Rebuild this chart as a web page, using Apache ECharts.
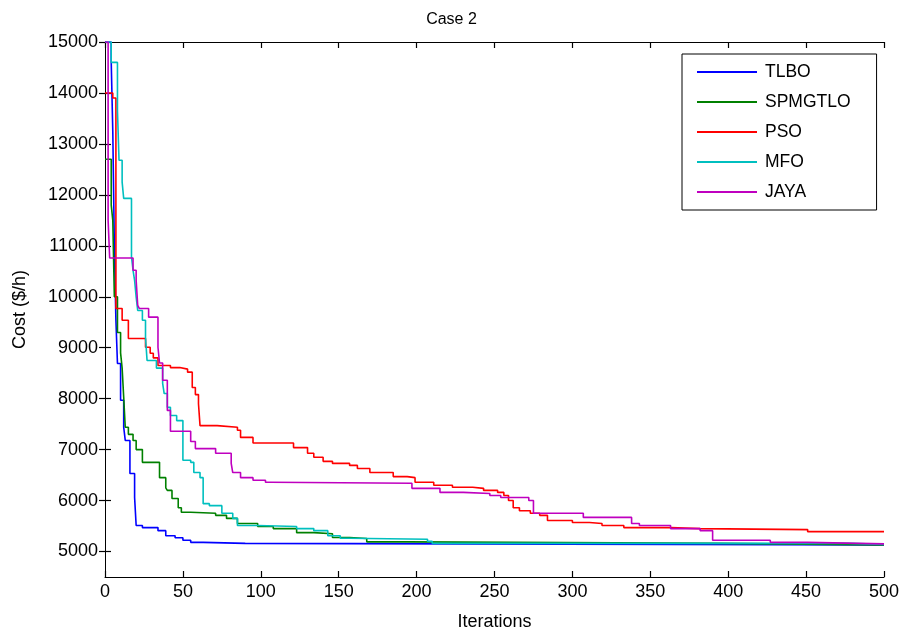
<!DOCTYPE html>
<html>
<head>
<meta charset="utf-8">
<script src="https://cdn.jsdelivr.net/npm/echarts@6/dist/echarts.min.js"></script>
<style>
  html, body { margin: 0; padding: 0; background: #fff; }
  #chart { width: 903px; height: 636px; }
</style>
</head>
<body>
<div id="chart"></div>
<script>
// Convergence of the best cost per iteration, [iteration, cost ($/h)]
const tlbo = [[0,15000],[4,14600],[5,13250],[6,11000],[7,9540],[8,8690],[10,7970],[12,7440],[13,7180],[16,6530],[19,6060],[20,5510],[24,5470],[34,5410],[39,5310],[45,5270],[50,5220],[55,5180],[63,5160],[90,5130],[500,5130]];
const spmgtlo = [[0,12700],[4,11800],[5,11500],[6,10000],[8,9300],[10,8900],[11,8600],[12,8030],[13,7440],[15,7300],[18,7180],[20,7000],[24,6750],[32,6750],[35,6450],[39,6250],[40,6200],[43,6040],[47,5860],[49,5770],[55,5750],[71,5710],[78,5650],[85,5550],[98,5490],[108,5450],[123,5370],[134,5350],[146,5275],[157,5255],[168,5190],[194,5160],[395,5130],[500,5130]];
const pso = [[0,14000],[5,13900],[7,9770],[11,9540],[15,9180],[26,9010],[29,8890],[31,8800],[34,8650],[42,8610],[48,8580],[53,8520],[56,8220],[58,8080],[60,7900],[61,7470],[72,7440],[85,7380],[87,7240],[95,7130],[121,7040],[130,6930],[134,6850],[140,6770],[146,6730],[157,6690],[162,6630],[170,6550],[185,6470],[194,6450],[199,6360],[211,6300],[223,6260],[236,6240],[243,6200],[252,6160],[256,6100],[259,6000],[262,5860],[266,5800],[273,5750],[279,5710],[284,5610],[300,5570],[311,5550],[319,5510],[333,5470],[363,5450],[382,5430],[451,5390],[500,5390]];
const mfo = [[0,15000],[4,14600],[8,13650],[9,12680],[11,12250],[12,11930],[17,10780],[18,10520],[19,10320],[20,9990],[21,9730],[24,9540],[26,9200],[27,8750],[33,8600],[37,8300],[38,8100],[40,7830],[42,7670],[46,7570],[50,6790],[55,6750],[57,6550],[61,6450],[63,5940],[67,5900],[75,5750],[82,5650],[85,5510],[98,5490],[123,5450],[134,5410],[143,5310],[151,5260],[157,5240],[207,5200],[210,5160],[477,5140],[500,5140]];
const jaya = [[0,15000],[2,11500],[3,10760],[18,10520],[20,10320],[21,9830],[22,9770],[28,9600],[34,9010],[35,8700],[37,8360],[40,7770],[42,7360],[55,7160],[58,7020],[71,6930],[81,6730],[82,6550],[87,6450],[95,6400],[103,6360],[106,6340],[197,6240],[215,6160],[230,6140],[247,6100],[254,6060],[272,6000],[275,5750],[307,5670],[338,5550],[343,5510],[363,5450],[382,5410],[390,5220],[427,5180],[451,5150],[500,5150]];

const seriesNames = ['TLBO', 'SPMGTLO', 'PSO', 'MFO', 'JAYA'];
const seriesColors = ['#0000ff', '#008000', '#ff0000', '#00bfbf', '#bf00bf'];
const seriesData = [tlbo, spmgtlo, pso, mfo, jaya];

const xTicks = [0, 50, 100, 150, 200, 250, 300, 350, 400, 450, 500];
const yTicks = [5000, 6000, 7000, 8000, 9000, 10000, 11000, 12000, 13000, 14000, 15000];

const font = 'Liberation Sans, Arial, sans-serif';
const chart = echarts.init(document.getElementById('chart'), null, { renderer: 'canvas' });

const axisLineStyle = { show: true, lineStyle: { color: '#000', width: 1 } };
const tickStyle = { show: true, inside: true, length: 6, lineStyle: { color: '#000', width: 1.2 } };
const plain = v => String(v);

chart.setOption({
  backgroundColor: '#fff',
  animation: false,
  title: {
    text: 'Case 2',
    left: 'center',
    top: 7,
    textStyle: { fontFamily: font, fontSize: 16, fontWeight: 'normal', color: '#000' }
  },
  legend: {
    orient: 'vertical',
    left: 682,
    top: 54,
    width: 193,
    padding: [9, 26, 9, 15],
    itemWidth: 60,
    itemHeight: 2,
    itemGap: 12,
    backgroundColor: '#fff',
    borderColor: '#000',
    borderWidth: 1,
    textStyle: { fontFamily: font, fontSize: 17.5, color: '#000', padding: [0, 0, 0, 3] },
    data: seriesNames.map((n, i) => ({ name: n, icon: 'rect', itemStyle: { color: seriesColors[i] } }))
  },
  grid: { left: 105, right: 19, top: 42, bottom: 59, containLabel: false },
  xAxis: [
    {
      type: 'value', min: 0, max: 500, interval: 50,
      name: 'Iterations', nameLocation: 'middle', nameGap: 36,
      nameTextStyle: { fontFamily: font, fontSize: 18, color: '#000' },
      axisLine: axisLineStyle, axisTick: tickStyle,
      axisLabel: { fontFamily: font, fontSize: 18, color: '#000', margin: 6, formatter: plain },
      splitLine: { show: false }
    },
    {
      type: 'value', position: 'top', min: 0, max: 500, interval: 50,
      axisLine: axisLineStyle, axisTick: tickStyle,
      axisLabel: { show: false }, splitLine: { show: false }
    }
  ],
  yAxis: [
    {
      type: 'value', min: 4500, max: 15000,
      name: 'Cost ($/h)', nameLocation: 'middle', nameGap: 76,
      nameTextStyle: { fontFamily: font, fontSize: 18, color: '#000' },
      axisLine: axisLineStyle,
      axisTick: Object.assign({ customValues: yTicks }, tickStyle),
      axisLabel: { fontFamily: font, fontSize: 18, color: '#000', margin: 7, customValues: yTicks, formatter: plain },
      splitLine: { show: false }
    },
    {
      type: 'value', position: 'right', min: 4500, max: 15000,
      axisLine: axisLineStyle,
      axisTick: Object.assign({ customValues: yTicks }, tickStyle),
      axisLabel: { show: false }, splitLine: { show: false }
    }
  ],
  series: seriesNames.map((n, i) => ({
    name: n,
    type: 'line',
    step: 'end',
    symbol: 'none',
    clip: true,
    data: seriesData[i],
    lineStyle: { color: seriesColors[i], width: 1.6 },
    itemStyle: { color: seriesColors[i] }
  }))
});
</script>
</body>
</html>
